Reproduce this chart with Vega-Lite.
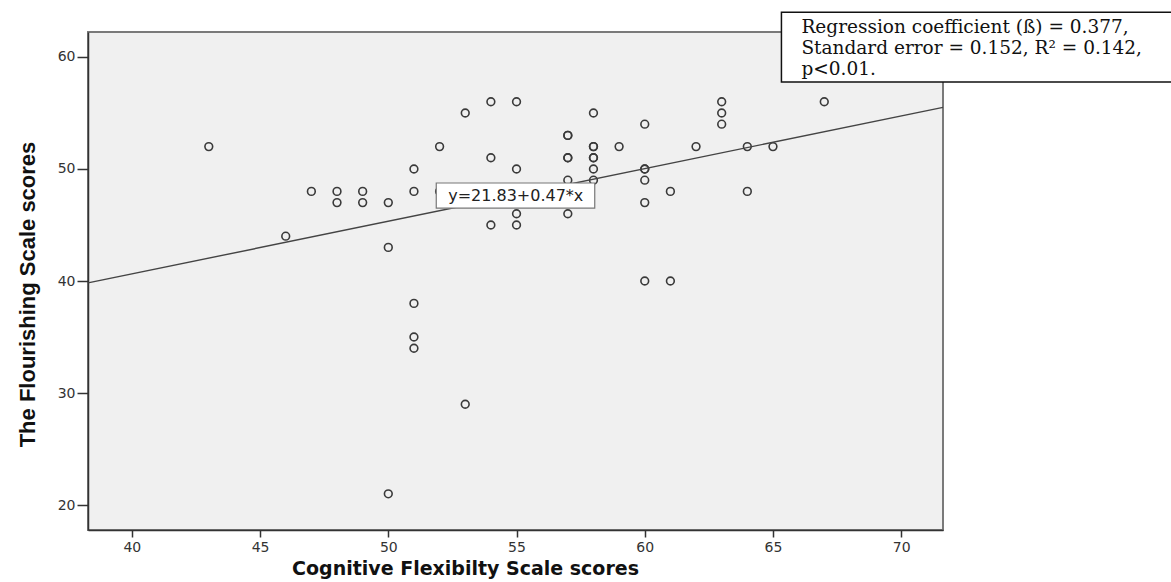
{
  "$schema": "https://vega.github.io/schema/vega-lite/v6.json",
  "width": 855,
  "height": 498,
  "autosize": {"type": "none"},
  "padding": {"left": 88, "top": 32, "right": 228, "bottom": 52},
  "background": "white",
  "config": {
    "view": {"fill": "#f0f0f0", "stroke": "#7a7a7a", "strokeWidth": 2},
    "axis": {
      "grid": false,
      "domainColor": "#333333",
      "domainWidth": 1.5,
      "tickColor": "#333333",
      "tickWidth": 1.5,
      "labelFont": "DejaVu Sans",
      "labelFontSize": 14,
      "labelColor": "#333333",
      "titleColor": "#111111",
      "titleFontWeight": "bold"
    }
  },
  "datasets": {
    "scores": [
      {"cfs": 43, "fs": 52}, {"cfs": 46, "fs": 44}, {"cfs": 47, "fs": 48},
      {"cfs": 48, "fs": 48}, {"cfs": 48, "fs": 47}, {"cfs": 49, "fs": 48},
      {"cfs": 49, "fs": 47}, {"cfs": 50, "fs": 47}, {"cfs": 50, "fs": 43},
      {"cfs": 50, "fs": 21}, {"cfs": 51, "fs": 50}, {"cfs": 51, "fs": 48},
      {"cfs": 51, "fs": 38}, {"cfs": 51, "fs": 35}, {"cfs": 51, "fs": 34},
      {"cfs": 52, "fs": 52}, {"cfs": 52, "fs": 48}, {"cfs": 53, "fs": 55},
      {"cfs": 53, "fs": 29}, {"cfs": 54, "fs": 56}, {"cfs": 54, "fs": 51},
      {"cfs": 54, "fs": 45}, {"cfs": 55, "fs": 56}, {"cfs": 55, "fs": 50},
      {"cfs": 55, "fs": 46}, {"cfs": 55, "fs": 45}, {"cfs": 57, "fs": 53},
      {"cfs": 57, "fs": 53}, {"cfs": 57, "fs": 51}, {"cfs": 57, "fs": 51},
      {"cfs": 57, "fs": 49}, {"cfs": 57, "fs": 46}, {"cfs": 58, "fs": 55},
      {"cfs": 58, "fs": 52}, {"cfs": 58, "fs": 52}, {"cfs": 58, "fs": 51},
      {"cfs": 58, "fs": 51}, {"cfs": 58, "fs": 50}, {"cfs": 58, "fs": 49},
      {"cfs": 59, "fs": 52}, {"cfs": 60, "fs": 54}, {"cfs": 60, "fs": 50},
      {"cfs": 60, "fs": 50}, {"cfs": 60, "fs": 49}, {"cfs": 60, "fs": 47},
      {"cfs": 60, "fs": 40}, {"cfs": 61, "fs": 48}, {"cfs": 61, "fs": 40},
      {"cfs": 62, "fs": 52}, {"cfs": 63, "fs": 56}, {"cfs": 63, "fs": 55},
      {"cfs": 63, "fs": 54}, {"cfs": 64, "fs": 52}, {"cfs": 64, "fs": 48},
      {"cfs": 65, "fs": 52}, {"cfs": 67, "fs": 56}
    ],
    "fit": [
      {"cfs": 38.29, "fs": 39.83},
      {"cfs": 71.63, "fs": 55.5}
    ]
  },
  "layer": [
    {
      "data": {"name": "scores"},
      "mark": {"type": "point", "shape": "circle", "filled": false, "size": 60, "stroke": "#3a3a3a", "strokeWidth": 1.6, "opacity": 1},
      "encoding": {
        "x": {
          "field": "cfs", "type": "quantitative",
          "scale": {"domain": [38.29, 71.63], "nice": false, "zero": false},
          "axis": {"values": [40, 45, 50, 55, 60, 65, 70], "tickSize": 7, "labelPadding": 3,
                   "title": "Cognitive Flexibilty Scale scores", "titleFont": "DejaVu Sans", "titleFontSize": 19,
                   "titlePadding": 5, "titleX": 377}
        },
        "y": {
          "field": "fs", "type": "quantitative",
          "scale": {"domain": [17.77, 62.23], "nice": false, "zero": false},
          "axis": {"values": [20, 30, 40, 50, 60], "tickSize": 11, "labelPadding": 2,
                   "title": "The Flourishing Scale scores", "titleFont": "Liberation Sans", "titleFontSize": 22,
                   "titlePadding": 18, "titleY": 262, "titleAlign": "center"}
        }
      }
    },
    {
      "data": {"name": "fit"},
      "mark": {"type": "line", "color": "#444444", "strokeWidth": 1.4},
      "encoding": {
        "x": {"field": "cfs", "type": "quantitative"},
        "y": {"field": "fs", "type": "quantitative"}
      }
    },
    {
      "data": {"values": [{"label": "y=21.83+0.47*x"}]},
      "mark": {"type": "rect", "fill": "white", "stroke": "#777777", "strokeWidth": 1.2},
      "encoding": {
        "x": {"datum": 51.87, "type": "quantitative"},
        "x2": {"datum": 58.05},
        "y": {"datum": 48.75, "type": "quantitative"},
        "y2": {"datum": 46.5}
      }
    },
    {
      "data": {"values": [{"label": "y=21.83+0.47*x"}]},
      "mark": {"type": "text", "font": "DejaVu Sans", "fontSize": 16, "color": "#222222", "align": "center", "baseline": "middle"},
      "encoding": {
        "x": {"datum": 54.97, "type": "quantitative"},
        "y": {"datum": 47.6, "type": "quantitative"},
        "text": {"field": "label"}
      }
    },
    {
      "data": {"values": [{"note": "box"}]},
      "mark": {"type": "rect", "fill": "white", "stroke": "#111111", "strokeWidth": 1.5, "clip": false},
      "encoding": {
        "x": {"datum": 65.33, "type": "quantitative"},
        "x2": {"datum": 80.6},
        "y": {"datum": 64.0, "type": "quantitative"},
        "y2": {"datum": 57.77}
      }
    },
    {
      "data": {"values": [{"note": "stats"}]},
      "mark": {"type": "text", "font": "DejaVu Serif", "fontSize": 18.5, "color": "#111111", "align": "left", "baseline": "alphabetic", "lineHeight": 21},
      "encoding": {
        "x": {"datum": 66.11, "type": "quantitative"},
        "y": {"datum": 62.14, "type": "quantitative"},
        "text": {"value": ["Regression coefficient (ß) = 0.377,", "Standard error = 0.152, R² = 0.142,", "p<0.01."]}
      }
    }
  ]
}
